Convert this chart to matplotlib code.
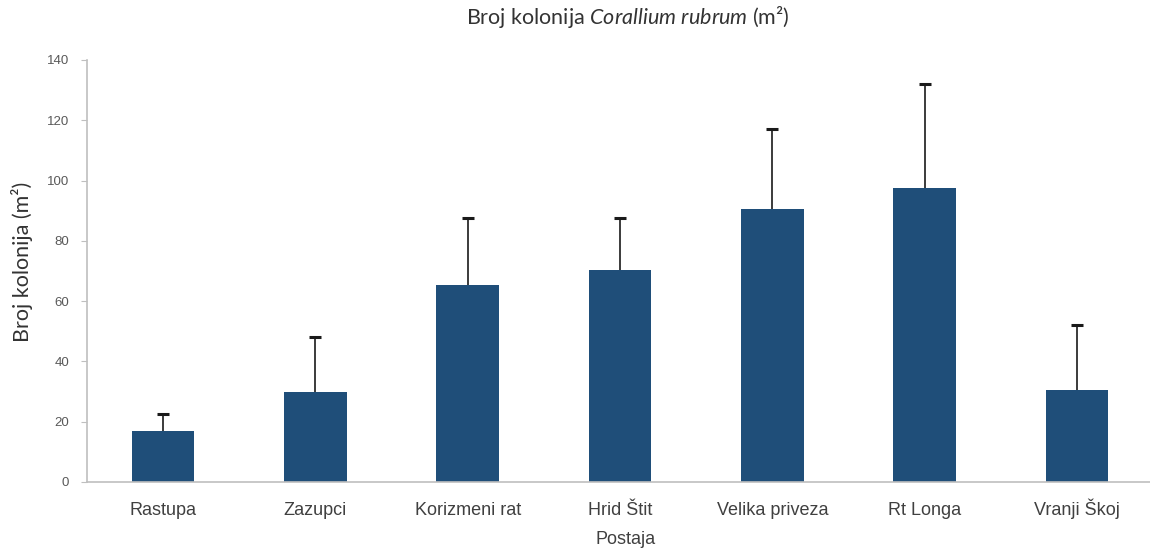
import matplotlib.pyplot as plt
import numpy as np

# mean colony counts per station, with upward standard deviation
postaje = ["Rastupa", "Zazupci", "Korizmeni rat", "Hrid Štit",
           "Velika priveza", "Rt Longa", "Vranji Škoj"]
broj = [17, 30, 65.4, 70.3, 90.5, 97.6, 30.5]
sd = [5.5, 18, 22.2, 17.3, 26.5, 34.5, 21.5]
yticks = [0, 20, 40, 60, 80, 100, 120, 140]

plt.rcParams['font.family'] = ['Liberation Sans', 'DejaVu Sans']
plt.rcParams['mathtext.fontset'] = 'custom'
plt.rcParams['mathtext.rm'] = 'Lato'
plt.rcParams['mathtext.it'] = 'Lato:italic'

fig = plt.figure(figsize=(11.5, 5.48), dpi=100)
ax = fig.add_axes([87 / 1150, 1 - 482 / 548, 1066 / 1150, 422 / 548])

x = np.arange(len(postaje))
ax.bar(x, broj, width=0.41, color='#1f4e79', zorder=2)
eb = ax.errorbar(x, broj, yerr=[np.zeros(len(sd)), sd], fmt='none',
                 ecolor='#1a1a1a', elinewidth=1.2, capsize=4, capthick=2.2, zorder=3)
# only the upper half of the error bar is shown
eb[1][0].set_visible(False)

ax.set_xlim(-0.5, len(postaje) - 0.5)
ax.set_ylim(0, 140)
ax.set_yticks(yticks)
ax.set_xticks(x)
ax.set_xticklabels(postaje, fontsize=13, color='#404040', va='baseline')
ax.tick_params(axis='x', length=0, pad=23.5)
ax.tick_params(axis='y', length=4, color='#bfbfbf', labelsize=9.5, labelcolor='#595959', pad=9)

for s in ['top', 'right']:
    ax.spines[s].set_visible(False)
for s in ['left', 'bottom']:
    ax.spines[s].set_color('#bfbfbf')
    ax.spines[s].set_linewidth(1.2)

fig.text(22 / 1150, 1 - 262 / 548, "Broj kolonija (m²)", rotation=90,
         ha='center', va='center', fontsize=15.5, family='Lato', color='#333333')
fig.text(626 / 1150, 1 - 540 / 548, "Postaja", ha='center', va='center',
         fontsize=13, color='#404040')
fig.text(628 / 1150, 1 - 17 / 548, "Broj kolonija $\\mathit{Corallium\\ rubrum}$ (m²)",
         ha='center', va='center', fontsize=15.5, family='Lato', color='#333333')

fig.savefig("out.png", dpi=100)
